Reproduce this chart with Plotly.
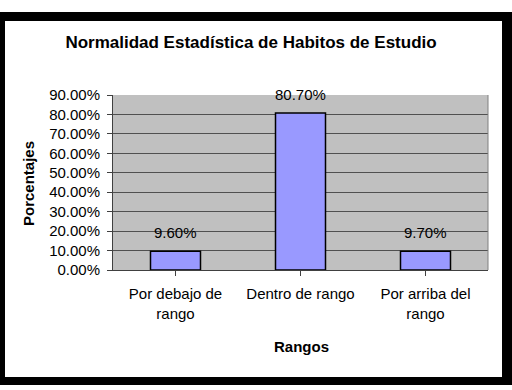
import plotly.graph_objects as go

categories = ["Por debajo de<br>rango", "Dentro de rango", "Por arriba del<br>rango"]
values = [0.096, 0.807, 0.097]
y_ticks = [0.0, 0.1, 0.2, 0.3, 0.4, 0.5, 0.6, 0.7, 0.8, 0.9]

W, H = 512, 390
L, R, T, B = 113, 488, 95, 270  # plot area in pixels


def px(x):
    return (x - L) / (R - L)


def py(y):
    return (B - y) / (B - T)


FONT = "Liberation Sans, Arial, sans-serif"

fig = go.Figure()
fig.add_trace(go.Bar(
    x=list(range(len(categories))), y=values,
    marker=dict(color="#9999FF", line=dict(color="#000000", width=1.5)),
    hoverinfo="skip",
))

for i, v in enumerate(values):
    fig.add_annotation(x=i, y=v, xref="x", yref="y", text=f"{v:.2%}",
                       showarrow=False, yanchor="middle", yshift=19,
                       font=dict(family=FONT, size=15, color="#000000"))

# axis titles
fig.add_annotation(x=px(28), y=py(184), xref="paper", yref="paper", text="<b>Porcentajes</b>",
                   textangle=-90, showarrow=False, xanchor="center", yanchor="middle",
                   font=dict(family=FONT, size=15, color="#000000"))
fig.add_annotation(x=px(301), y=py(346), xref="paper", yref="paper", text="<b>Rangos</b>",
                   showarrow=False, xanchor="center", yanchor="middle",
                   font=dict(family=FONT, size=15, color="#000000"))

# black frame around the chart
frame = [(0, 12, 5, 385), (502, 12, 512, 385), (0, 12, 512, 21), (0, 377, 512, 385)]
for x0, y0, x1, y1 in frame:
    fig.add_shape(type="rect", xref="paper", yref="paper",
                  x0=px(x0), x1=px(x1), y0=py(y1), y1=py(y0),
                  fillcolor="#000000", line=dict(width=0), layer="above")
# right border of plot area
fig.add_shape(type="line", xref="paper", yref="paper", x0=1, x1=1, y0=0, y1=1,
              line=dict(color="#808080", width=1), layer="above")

fig.update_layout(
    width=W, height=H,
    margin=dict(l=L, r=W - R, t=T, b=H - B, pad=0),
    paper_bgcolor="#FFFFFF", plot_bgcolor="#C0C0C0",
    showlegend=False, bargap=0.6,
    title=dict(text="<b>Normalidad Estadística de Habitos de Estudio</b>",
               x=251 / W, xref="container", xanchor="center",
               y=1 - 42 / H, yref="container", yanchor="middle",
               font=dict(family=FONT, size=17, color="#000000")),
    xaxis=dict(range=[-0.5, 2.5], tickmode="array", tickvals=list(range(len(categories))),
               ticktext=categories, tickson="boundaries", ticks="outside", ticklen=5,
               tickcolor="#404040", showline=True, linecolor="#404040", linewidth=1,
               showgrid=False, zeroline=False, ticklabelstandoff=5,
               tickfont=dict(family=FONT, size=15, color="#000000")),
    yaxis=dict(range=[0, 0.9], tickmode="array", tickvals=y_ticks, tickformat=".2%",
               ticks="outside", ticklen=5, tickcolor="#404040",
               showline=True, linecolor="#404040", linewidth=1,
               showgrid=True, gridcolor="#505050", gridwidth=1, zeroline=False,
               ticklabelstandoff=4,
               tickfont=dict(family=FONT, size=15, color="#000000")),
)

fig.write_html("out.html")
